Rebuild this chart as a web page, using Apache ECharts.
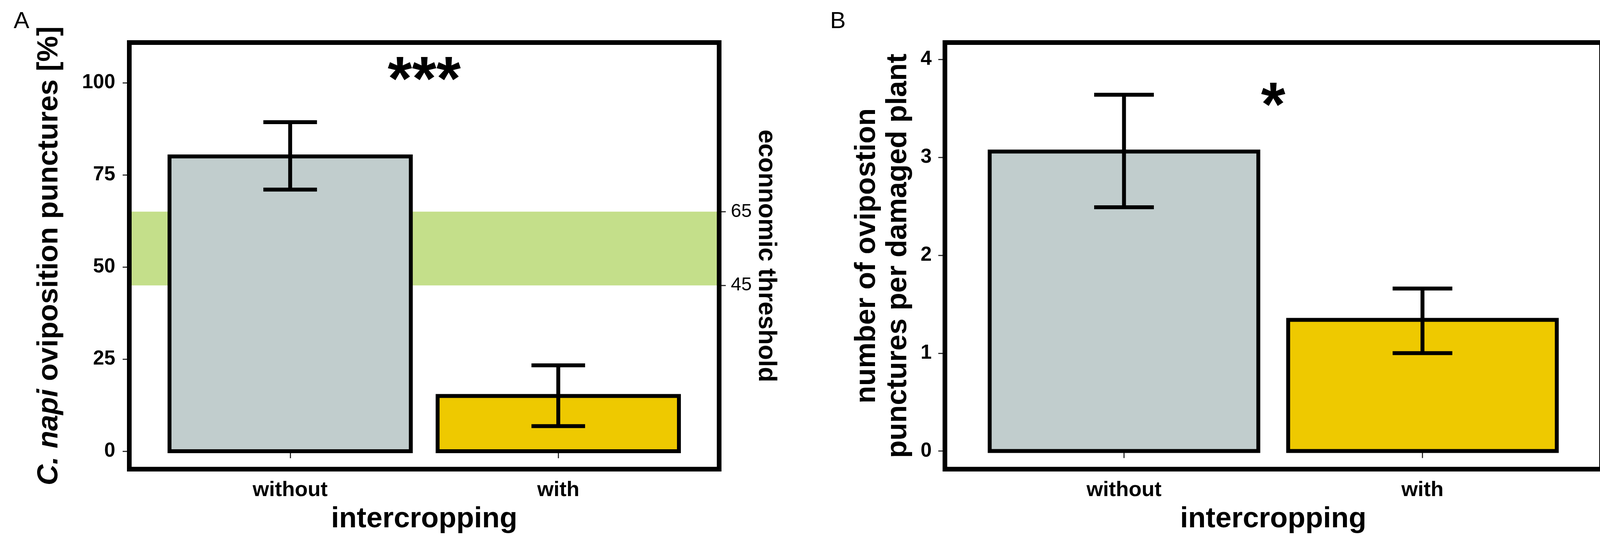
<!DOCTYPE html>
<html>
<head>
<meta charset="utf-8">
<script src="https://cdn.jsdelivr.net/npm/echarts@6/dist/echarts.min.js"></script>
<style>
html, body { margin: 0; padding: 0; background: #ffffff; }
#chart { width: 4155px; height: 1404px; }
</style>
</head>
<body>
<div id="chart"></div>
<script>
// ---------------- data ----------------
const categories = ['without', 'with'];
const categoryPositions = [1, 2];

// Panel A: C. napi oviposition punctures [%]
const puncturePercent = [80.0, 15.0];
const puncturePercentLow = [71.0, 6.8];
const puncturePercentHigh = [89.3, 23.3];
const thresholdBand = [45, 65];
const ticksA = [0, 25, 50, 75, 100];
const thresholdTicks = [45, 65];
const signifA = '***';
const signifAY = 100;

// Panel B: number of oviposition punctures per damaged plant
const puncturesPerPlant = [3.06, 1.34];
const puncturesPerPlantLow = [2.49, 1.00];
const puncturesPerPlantHigh = [3.64, 1.66];
const ticksB = [0, 1, 2, 3, 4];
const signifB = '*';
const signifBY = 3.5;

// ---------------- styles ----------------
const FONT = '"Liberation Sans", Arial, Helvetica, sans-serif';
const barColors = ['#C1CDCD', '#EEC900'];
const bandColor = '#c4df8a';
const X_MIN = 0.4, X_MAX = 2.6;
const BAR_W = 0.9, CAP_W = 0.2;

const chart = echarts.init(document.getElementById('chart'), null, { renderer: 'canvas' });

function barSeries(xi, yi, means) {
  return {
    type: 'custom', coordinateSystem: 'cartesian2d', xAxisIndex: xi, yAxisIndex: yi, z: 3,
    data: categoryPositions.map((x, i) => [x, means[i]]),
    renderItem: function (params, api) {
      const x = api.value(0), y = api.value(1);
      const p0 = api.coord([x - BAR_W / 2, 0]);
      const p1 = api.coord([x + BAR_W / 2, y]);
      return {
        type: 'rect',
        shape: { x: p0[0], y: p1[1], width: p1[0] - p0[0], height: p0[1] - p1[1] },
        style: { fill: barColors[params.dataIndex], stroke: '#000', lineWidth: 10 }
      };
    }
  };
}

function errSeries(xi, yi, lows, highs) {
  return {
    type: 'custom', coordinateSystem: 'cartesian2d', xAxisIndex: xi, yAxisIndex: yi, z: 4,
    data: categoryPositions.map((x, i) => [x, lows[i], highs[i]]),
    renderItem: function (params, api) {
      const x = api.value(0), lo = api.value(1), hi = api.value(2);
      const a = api.coord([x, lo]), b = api.coord([x, hi]);
      const l1 = api.coord([x - CAP_W / 2, lo]), r1 = api.coord([x + CAP_W / 2, lo]);
      const l2 = api.coord([x - CAP_W / 2, hi]), r2 = api.coord([x + CAP_W / 2, hi]);
      const st = { stroke: '#000', lineWidth: 10 };
      return {
        type: 'group',
        children: [
          { type: 'line', shape: { x1: a[0], y1: a[1], x2: b[0], y2: b[1] }, style: st },
          { type: 'line', shape: { x1: l1[0], y1: l1[1], x2: r1[0], y2: r1[1] }, style: st },
          { type: 'line', shape: { x1: l2[0], y1: l2[1], x2: r2[0], y2: r2[1] }, style: st }
        ]
      };
    }
  };
}

function textSeries(xi, yi, txt, yv) {
  return {
    type: 'custom', coordinateSystem: 'cartesian2d', xAxisIndex: xi, yAxisIndex: yi, z: 5,
    data: [[(categoryPositions[0] + categoryPositions[1]) / 2, yv]],
    renderItem: function (params, api) {
      const p = api.coord([api.value(0), api.value(1)]);
      return {
        type: 'text', x: p[0], y: p[1],
        style: { text: txt, fill: '#000', font: 'bold 160px ' + FONT, align: 'center', verticalAlign: 'middle' }
      };
    }
  };
}

function xAxisFor(gridIndex) {
  return {
    type: 'value', gridIndex: gridIndex, min: X_MIN, max: X_MAX,
    name: 'intercropping', nameLocation: 'middle', nameGap: 92,
    nameTextStyle: { fontSize: 74, fontWeight: 'bold', color: '#000', fontFamily: FONT },
    axisLine: { show: false }, splitLine: { show: false },
    axisTick: { show: true, length: 18, customValues: categoryPositions, lineStyle: { color: '#333', width: 3 } },
    axisLabel: {
      show: true, customValues: categoryPositions, margin: 27,
      fontSize: 54, fontWeight: 'bold', color: '#000', fontFamily: FONT,
      formatter: function (v) { return categories[Math.round(v) - 1]; }
    }
  };
}

const gridStyle = { show: true, borderColor: '#000', borderWidth: 12, backgroundColor: 'rgba(0,0,0,0)', z: 10 };

const option = {
  animation: false,
  backgroundColor: '#ffffff',
  title: [
    { text: 'A', left: 35, top: 25, padding: 0, textStyle: { fontSize: 60, fontWeight: 'normal', color: '#000', fontFamily: FONT } },
    { text: 'B', left: 2125, top: 25, padding: 0, textStyle: { fontSize: 60, fontWeight: 'normal', color: '#000', fontFamily: FONT } }
  ],
  grid: [
    Object.assign({ left: 331, top: 109, width: 1510, height: 1093 }, gridStyle),
    Object.assign({ left: 2419, top: 109, width: 1681, height: 1093 }, gridStyle)
  ],
  xAxis: [xAxisFor(0), xAxisFor(1)],
  yAxis: [
    {
      type: 'value', gridIndex: 0, position: 'left', min: -4.87, max: 110.9,
      name: '{it|C. napi} oviposition punctures [%]', nameLocation: 'middle', nameGap: 167,
      nameTextStyle: {
        fontSize: 74, fontWeight: 'bold', color: '#000', fontFamily: FONT,
        rich: { it: { fontSize: 74, fontWeight: 'bold', fontStyle: 'italic', color: '#000', fontFamily: FONT } }
      },
      axisLine: { show: false }, splitLine: { show: false },
      axisTick: { show: true, length: 17, customValues: ticksA, lineStyle: { color: '#333', width: 3 } },
      axisLabel: { show: true, customValues: ticksA, margin: 36, fontSize: 51, fontWeight: 'bold', color: '#000', fontFamily: FONT }
    },
    {
      type: 'value', gridIndex: 0, position: 'right', min: -4.87, max: 110.9,
      name: 'econnomic threshold', nameLocation: 'middle', nameGap: 78, nameRotate: -90,
      nameTextStyle: { fontSize: 64, fontWeight: 'bold', color: '#000', fontFamily: FONT },
      axisLine: { show: false }, splitLine: { show: false },
      axisTick: { show: true, length: 17, customValues: thresholdTicks, lineStyle: { color: '#333', width: 3 } },
      axisLabel: { show: true, customValues: thresholdTicks, margin: 30, fontSize: 48, fontWeight: 'normal', color: '#000', fontFamily: FONT }
    },
    {
      type: 'value', gridIndex: 1, position: 'left', min: -0.185, max: 4.173,
      name: 'number of ovipostion\npunctures per damaged plant', nameLocation: 'middle', nameGap: 79,
      nameTextStyle: { fontSize: 74, fontWeight: 'bold', color: '#000', fontFamily: FONT, lineHeight: 80, align: 'center' },
      axisLine: { show: false }, splitLine: { show: false },
      axisTick: { show: true, length: 17, customValues: ticksB, lineStyle: { color: '#333', width: 3 } },
      axisLabel: { show: true, customValues: ticksB, margin: 34, fontSize: 51, fontWeight: 'bold', color: '#000', fontFamily: FONT }
    }
  ],
  series: [
    {
      type: 'custom', coordinateSystem: 'cartesian2d', xAxisIndex: 0, yAxisIndex: 0, z: 1,
      data: [[thresholdBand[0], thresholdBand[1]]],
      renderItem: function (params, api) {
        const a = api.coord([X_MIN, api.value(1)]);
        const b = api.coord([X_MAX, api.value(0)]);
        return { type: 'rect', shape: { x: a[0], y: a[1], width: b[0] - a[0], height: b[1] - a[1] }, style: { fill: bandColor } };
      }
    },
    barSeries(0, 0, puncturePercent),
    errSeries(0, 0, puncturePercentLow, puncturePercentHigh),
    textSeries(0, 0, signifA, signifAY),
    barSeries(1, 2, puncturesPerPlant),
    errSeries(1, 2, puncturesPerPlantLow, puncturesPerPlantHigh),
    textSeries(1, 2, signifB, signifBY)
  ]
};
chart.setOption(option);
</script>
</body>
</html>
